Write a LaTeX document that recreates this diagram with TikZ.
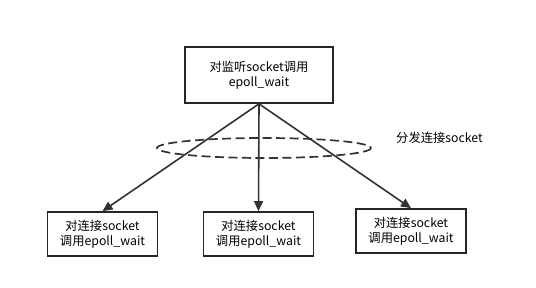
\documentclass[tikz,border=0pt]{standalone}
\usepackage{fontspec}
\newfontfamily\cjk{Noto Sans CJK SC}
\usetikzlibrary{arrows.meta, positioning}

\begin{document}
\begin{tikzpicture}[
  x=1pt, y=-1pt,
  font=\cjk\fontsize{12.3}{15.5}\selectfont,
  box/.style={
    draw=black!85, line width=1.7pt, inner sep=0pt,
    minimum width=110pt, minimum height=44pt, align=center
  },
  arr/.style={-{Triangle[length=10pt, width=9pt]}, black!80, line width=1.6pt}
]
  \useasboundingbox (0,0) rectangle (536,288);

  \node[box, minimum width=148pt, minimum height=56pt] (listen) at (259,75)
    {对监听socket调用\\epoll\_wait};
  \node[box] (conn1) at (102.5,234) {对连接socket\\调用epoll\_wait};
  \node[box] (conn2) at (258.5,234) {对连接socket\\调用epoll\_wait};
  \node[box] (conn3) at (411,231) {对连接socket\\调用epoll\_wait};

  \coordinate (fork) at (listen.south);
  \foreach \c in {conn1,conn2,conn3}
    \draw[arr] (fork) -- (\c.north);

  \draw[black!80, line width=1.7pt, dash pattern=on 9pt off 4.5pt]
    (264,148) ellipse [x radius=107, y radius=10];
  \node[anchor=west, inner sep=0pt] (dispatch) at (396,138) {分发连接socket};
\end{tikzpicture}
\end{document}
